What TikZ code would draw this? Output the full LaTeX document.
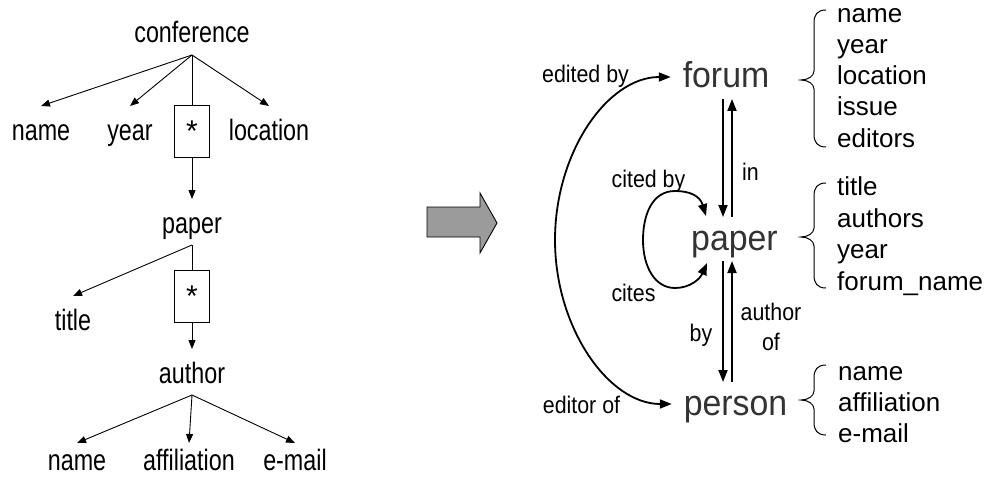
\documentclass[tikz,border=0pt]{standalone}
\usepackage{fontspec}
\setmainfont{Liberation Sans}
\newfontfamily\treefont[FakeStretch=0.79]{Liberation Sans}
\newfontfamily\labfont[FakeStretch=0.89]{Liberation Sans}
\newfontfamily\entfont[FakeStretch=0.94]{Liberation Sans}
\usetikzlibrary{arrows.meta}
\definecolor{entitygray}{RGB}{51,51,51}
\definecolor{arrowgray}{RGB}{155,155,155}

% curly brace in front of an attribute list: top y, tip y, bottom y
\newcommand\attrbrace[3]{%
  \draw[brace line] (826,#1) .. controls (817,#1) and (814,#1+5) .. (814,#1+13)
    -- (814,#2-9) .. controls (814,#2-4) and (808,#2) .. (801,#2)
    .. controls (808,#2) and (814,#2+4) .. (814,#2+9)
    -- (814,#3-13) .. controls (814,#3-5) and (817,#3) .. (826,#3);}

\begin{document}
\begin{tikzpicture}[x=1pt, y=-1pt,
  treetext/.style={font=\treefont\fontsize{29.5}{34}\selectfont, inner sep=0pt, outer sep=0pt,
    text height=34pt, text depth=12pt, anchor=base},
  leaftext/.style={treetext, text height=27pt},
  starbox/.style={draw, line width=0.9pt, minimum width=35pt, minimum height=52pt, inner sep=0pt,
    text height=26pt, text depth=6pt, font=\fontsize{30}{34}\selectfont},
  treeedge/.style={line width=0.9pt},
  treearrow/.style={treeedge, -{Triangle[length=9pt,width=7pt]}},
  entity/.style={font=\entfont\fontsize{36}{42}\selectfont, text=entitygray, inner sep=0pt,
    outer xsep=12pt, outer ysep=0pt, text height=33pt, text depth=11pt, anchor=base},
  rel/.style={line width=1.8pt, -{Triangle[length=12pt,width=9pt]}},
  rel2/.style={line width=1.8pt, {Triangle[length=12pt,width=9pt]}-{Triangle[length=12pt,width=9pt]}},
  edgelabel/.style={font=\labfont\fontsize{24}{30}\selectfont, inner sep=0pt, anchor=base},
  attr/.style={font=\fontsize{26}{31}\selectfont, inner sep=0pt, anchor=base west},
  brace line/.style={line width=1pt}]

\path[use as bounding box] (0,0) rectangle (987,484);

% ---------- document tree ----------
\node[treetext] (conf) at (192,43) {conference};
\node[treetext] (cname) at (41,140) {name};
\node[treetext] (cyear) at (130,140) {year};
\node[treetext] (cloc) at (269,140) {location};
\node[starbox] (box1) at (192,131) {*};
\node[treetext] (tpaper) at (192,233) {paper};
\node[treetext] (ttitle) at (73,330) {title};
\node[starbox] (box2) at (192,296.5) {*};
\node[treetext] (tauthor) at (192,383) {author};
\node[leaftext] (aname) at (77,470) {name};
\node[leaftext] (aaff) at (189,470) {affiliation};
\node[leaftext] (amail) at (295,470) {e-mail};

\draw[treearrow] (conf.south) -- (cname.north);
\draw[treearrow] (conf.south) -- (cyear.north);
\draw[treearrow] (conf.south) -- (cloc.north);
\draw[treeedge] (conf.south) -- (box1.north);
\draw[treearrow] (box1.south) -- (box1.south |- tpaper.north);
\draw[treearrow] (tpaper.south) -- (ttitle.north);
\draw[treeedge] (tpaper.south) -- (box2.north);
\draw[treearrow] (box2.south) -- (box2.south |- tauthor.north);
\draw[treearrow] (tauthor.south) -- (aname.north);
\draw[treearrow] (tauthor.south) -- (aaff.north);
\draw[treearrow] (tauthor.south) -- (amail.north);

% ---------- transformation arrow ----------
\draw[line width=0.9pt, fill=arrowgray] (427,207) -- (480,207) -- (480,193) -- (497,223)
  -- (480,253) -- (480,237) -- (427,237) -- cycle;

% ---------- entity graph ----------
\node[entity] (forum) at (726,88) {forum};
\node[entity] (paper) at (734.5,250) {paper};
\node[entity] (person) at (735.5,415) {person};

\coordinate (colL) at (723,0);
\coordinate (colR) at (732,0);
\coordinate (arcleft) at (555,240);
\coordinate (citedend) at (706,216);
\coordinate (citesend) at (707,263);

\draw[rel] (colL |- forum.south) -- (colL |- paper.north);
\draw[rel] (colR |- paper.north) -- (colR |- forum.south);
\draw[rel] (colL |- paper.south) -- (colL |- person.north);
\draw[rel] (colR |- person.north) -- (colR |- paper.south);

\draw[rel2] (forum.west) .. controls +(-63,0) and +(0,-88) .. (arcleft)
  .. controls +(0,88) and +(-63,0) .. (person.west);

\draw[rel2] (citedend) .. controls (700,196) and (690,191) .. (675,191)
  .. controls (652,191) and (643,215) .. (643,240)
  .. controls (643,267) and (655,288) .. (675,288)
  .. controls (690,288) and (700,279) .. (citesend);

\node[edgelabel] (lbl-editedby) at (585.5,83) {edited by};
\node[edgelabel] (lbl-citedby) at (648.5,187) {cited by};
\node[edgelabel] (lbl-cites) at (633.5,301) {cites};
\node[edgelabel] (lbl-editorof) at (581.5,413) {editor of};
\node[edgelabel] (lbl-in) at (750.5,180) {in};
\node[edgelabel] (lbl-by) at (701,341) {by};
\node[edgelabel, anchor=center, align=center] (lbl-authorof) at (771,327) {author\\of};

% ---------- attribute lists ----------
\attrbrace{10}{80}{147}
\node[attr] (f1) at (837,23) {name};
\node[attr] (f2) at (837,54) {year};
\node[attr] (f3) at (837,85) {location};
\node[attr] (f4) at (837,116) {issue};
\node[attr] (f5) at (837,147) {editors};

\attrbrace{183}{237}{288}
\node[attr] (p1) at (837,195) {title};
\node[attr] (p2) at (837,227) {authors};
\node[attr] (p3) at (837,258) {year};
\node[attr] (p4) at (837,290) {forum\_name};

\attrbrace{365}{400}{435}
\node[attr] (r1) at (838,380) {name};
\node[attr] (r2) at (838,411) {affiliation};
\node[attr] (r3) at (838,442) {e-mail};

\end{tikzpicture}
\end{document}
